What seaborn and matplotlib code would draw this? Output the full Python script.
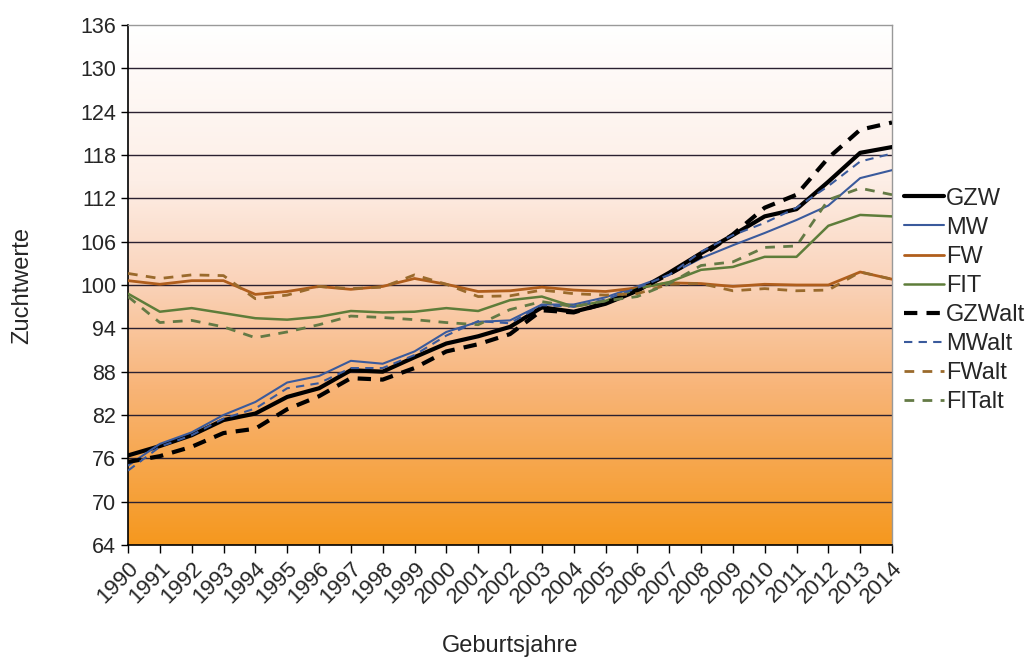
import numpy as np
import pandas as pd
import matplotlib
matplotlib.use("Agg")
import matplotlib.pyplot as plt
from matplotlib.colors import LinearSegmentedColormap
import seaborn as sns

# data
years = list(range(1990, 2015))

gzw = [76.4, 77.7, 79.2, 81.3, 82.2, 84.5, 85.7, 88.2, 88.0, 90.0, 91.9, 92.9, 94.2, 96.9, 96.3,
       97.4, 99.2, 101.7, 104.4, 106.9, 109.5, 110.5, 114.3, 118.3, 119.1]
mw = [75.0, 78.0, 79.6, 82.0, 83.8, 86.5, 87.4, 89.5, 89.1, 90.8, 93.5, 94.9, 95.1, 97.3, 97.3,
      98.3, 99.8, 101.4, 103.7, 105.5, 107.2, 109.0, 111.0, 114.8, 115.9]
fw = [100.6, 100.1, 100.6, 100.6, 98.7, 99.1, 99.8, 99.4, 99.8, 100.9, 100.1, 99.1, 99.2, 99.7, 99.3,
      99.1, 99.6, 100.3, 100.2, 99.8, 100.1, 100.0, 100.0, 101.8, 100.8]
fit = [98.8, 96.3, 96.8, 96.1, 95.4, 95.2, 95.6, 96.4, 96.2, 96.3, 96.8, 96.4, 97.9, 98.4, 97.0,
       97.8, 99.5, 100.4, 102.1, 102.5, 103.9, 103.9, 108.2, 109.7, 109.5]
gzw_alt = [75.5, 76.3, 77.6, 79.5, 80.1, 82.8, 84.6, 87.1, 86.9, 88.5, 90.8, 91.8, 93.2, 96.5, 96.2,
           97.5, 99.3, 101.5, 104.0, 107.0, 110.7, 112.5, 117.6, 121.5, 122.5]
mw_alt = [74.3, 77.6, 79.2, 81.5, 82.9, 85.7, 86.4, 88.5, 88.5, 90.3, 93.0, 95.0, 94.7, 97.2, 97.0,
          98.0, 99.6, 101.4, 104.6, 106.9, 108.6, 110.7, 113.7, 117.1, 118.2]
fw_alt = [101.6, 100.9, 101.4, 101.3, 98.1, 98.6, 99.8, 99.5, 99.7, 101.4, 100.1, 98.4, 98.5, 99.3, 98.8,
          98.6, 98.8, 100.1, 100.2, 99.2, 99.5, 99.2, 99.3, 101.8, 100.8]
fit_alt = [98.4, 94.8, 95.1, 94.2, 92.7, 93.5, 94.5, 95.7, 95.5, 95.2, 94.8, 94.5, 96.6, 97.7, 97.0,
           97.8, 98.4, 100.2, 102.7, 103.2, 105.2, 105.4, 111.8, 113.4, 112.5]

yticks = list(range(64, 137, 6))

series = [
    ("GZW", gzw, "#000000", 3.0, None),
    ("MW", mw, "#3A5A9C", 1.5, None),
    ("FW", fw, "#B05E1C", 2.0, None),
    ("FIT", fit, "#5E7D3A", 1.8, None),
    ("GZWalt", gzw_alt, "#000000", 3.0, (3.2, 2.2)),
    ("MWalt", mw_alt, "#3A5A9C", 1.5, (4, 3)),
    ("FWalt", fw_alt, "#9A6A2C", 2.0, (3.5, 3)),
    ("FITalt", fit_alt, "#647A45", 2.0, (3.5, 3)),
]

sns.set_style("white")
plt.rcParams['font.family'] = ['Liberation Sans', 'DejaVu Sans']

fig = plt.figure(figsize=(10.34, 6.59), dpi=100)
ax = fig.add_axes([128 / 1034, 1 - 545 / 659, (892 - 128) / 1034, (545 - 25) / 659])

# gradient background, white at top to orange at bottom
cmap = LinearSegmentedColormap.from_list(
    "bg", [(0.0, "#FFFFFF"), (0.3, "#FDEEE6"), (0.5, "#FAD2B8"), (0.7, "#F8B477"), (1.0, "#F5981E")])
grad = np.linspace(0, 1, 256).reshape(-1, 1)
ax.imshow(grad, cmap=cmap, aspect="auto", extent=[0, 1, 0, 1], origin="upper",
          transform=ax.transAxes, zorder=0)

for y in yticks[1:-1]:
    ax.axhline(y, color="#2a2030", lw=1.0, zorder=1)

for name, vals, col, lw, dash in series:
    df = pd.DataFrame({"Jahr": years, "Wert": vals})
    sns.lineplot(data=df, x="Jahr", y="Wert", ax=ax, color=col, lw=lw, label=name, zorder=3)
    if dash is not None:
        ax.lines[-1].set_dashes(dash)

ax.set_xlim(1990, 2014)
ax.set_ylim(64, 136)
ax.set_yticks(yticks)
ax.set_xticks(years)
ax.set_xticklabels([str(y) for y in years], rotation=45, ha="right", rotation_mode="anchor", fontsize=16)
ax.tick_params(axis="y", labelsize=15.5, length=5, width=1, color="black", direction="out", left=True)
ax.tick_params(axis="x", length=6, width=1, color="black", direction="out", bottom=True, pad=3)

ax.set_xlabel("Geburtsjahre", fontsize=17, labelpad=20)
ax.set_ylabel("Zuchtwerte", fontsize=17, labelpad=34)

for s in ["top", "right"]:
    ax.spines[s].set_color("#999999")
    ax.spines[s].set_linewidth(1.0)
for s in ["left", "bottom"]:
    ax.spines[s].set_color("black")
    ax.spines[s].set_linewidth(1.2)

leg = ax.legend(loc="upper left", bbox_to_anchor=(1.0, 0.71), frameon=False, fontsize=17,
                handlelength=1.7, handletextpad=0.1, labelspacing=0.3, borderaxespad=0.1)

fig.savefig("out.png", dpi=100)
